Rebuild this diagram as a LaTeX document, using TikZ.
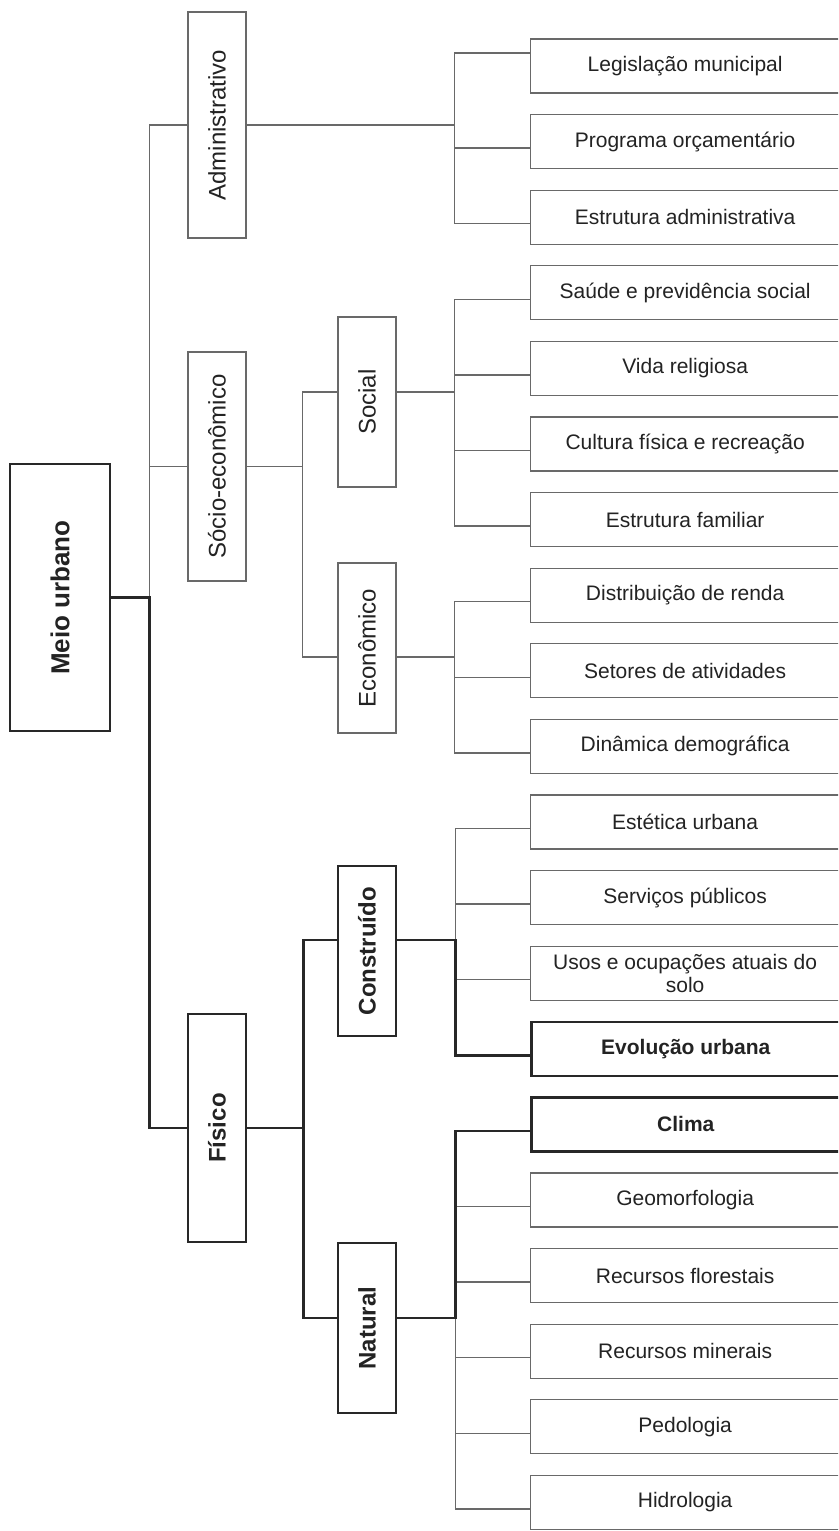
\documentclass[tikz,border=0pt]{standalone}
\usepackage{fontspec}
\setmainfont{Liberation Sans}
\definecolor{thinc}{RGB}{105,105,105}
\definecolor{thickc}{RGB}{40,40,40}
\definecolor{txt}{RGB}{35,35,35}
\begin{document}
\begin{tikzpicture}[x=1pt,y=-1pt,
  box/.style={draw=thinc,line width=1.3pt,inner sep=0pt,text=txt},
  boldbox/.style={draw=thickc,line width=2.6pt,inner sep=0pt,text=txt},
  leaf/.style={minimum width=309pt,minimum height=54pt,anchor=west,
    font=\fontsize{21}{23}\selectfont,align=center},
  boldleaf/.style={leaf,font=\bfseries\fontsize{21}{23}\selectfont},
  branch/.style={minimum width=58pt,font=\fontsize{24}{28}\selectfont},
  boldbranch/.style={minimum width=58pt,font=\bfseries\fontsize{24}{28}\selectfont},
  thinline/.style={draw=thinc,line width=1.3pt},
  thickline/.style={draw=thickc,line width=2.6pt}
]
\clip (0,0) rectangle (838,1531);
\fill[white] (0,0) rectangle (838,1531);

% root and first level
\node[boldbox,minimum width=100pt,minimum height=267pt,
  font=\bfseries\fontsize{26}{30}\selectfont] (meio) at (60,597.5) {\rotatebox{90}{Meio urbano}};
\node[box,branch,minimum height=226pt] (adm) at (217,125) {\rotatebox{90}{Administrativo}};
\node[box,branch,minimum height=229pt] (socio) at (217,466.5) {\rotatebox{90}{Sócio-econômico}};
\node[boldbox,boldbranch,minimum height=228pt] (fisico) at (217,1128) {\rotatebox{90}{Físico}};

% second level
\node[box,branch,minimum height=170pt] (social) at (367,402) {\rotatebox{90}{Social}};
\node[box,branch,minimum height=170pt] (econ) at (367,648) {\rotatebox{90}{Econômico}};
\node[boldbox,boldbranch,minimum height=170pt] (constr) at (367,951) {\rotatebox{90}{Construído}};
\node[boldbox,boldbranch,minimum height=170pt] (natural) at (367,1328) {\rotatebox{90}{Natural}};

% leaves
\node[box,leaf] (leg)   at (530,66)     {Legislação municipal};
\node[box,leaf] (prog)  at (530,141.6)  {Programa orçamentário};
\node[box,leaf] (estr)  at (530,217.2)  {Estrutura administrativa};
\node[box,leaf] (saude) at (530,292.8)  {Saúde e previdência social};
\node[box,leaf] (vida)  at (530,368.4)  {Vida religiosa};
\node[box,leaf] (cult)  at (530,444)    {Cultura física e recreação};
\node[box,leaf] (fam)   at (530,519.6)  {Estrutura familiar};
\node[box,leaf] (dist)  at (530,595.2)  {Distribuição de renda};
\node[box,leaf] (seto)  at (530,670.8)  {Setores de atividades};
\node[box,leaf] (dina)  at (530,746.4)  {Dinâmica demográfica};
\node[box,leaf] (este)  at (530,822)    {Estética urbana};
\node[box,leaf] (serv)  at (530,897.6)  {Serviços públicos};
\node[box,leaf] (usos)  at (530,973.2)  {Usos e ocupações atuais do\\solo};
\node[boldbox,boldleaf] (evol)  at (530,1048.8) {Evolução urbana};
\node[boldbox,boldleaf] (clima) at (530,1124.4) {Clima};
\node[box,leaf] (geo)   at (530,1200)   {Geomorfologia};
\node[box,leaf] (flor)  at (530,1275.6) {Recursos florestais};
\node[box,leaf] (mine)  at (530,1351.2) {Recursos minerais};
\node[box,leaf] (pedo)  at (530,1426.8) {Pedologia};
\node[box,leaf] (hidro) at (530,1502.4) {Hidrologia};

% bus junctions
\coordinate (spine)     at ([xshift=38pt]meio.east);
\coordinate (admBus)    at ([xshift=208pt]adm.east);
\coordinate (socBus)    at ([xshift=56pt]socio.east);
\coordinate (socialBus) at ([xshift=58pt,yshift=10pt]social.east);
\coordinate (econBus)   at ([xshift=58pt,yshift=-9pt]econ.east);
\coordinate (fisBus)    at ([xshift=56pt]fisico.east);
\coordinate (conBus)    at ([xshift=58pt,yshift=11pt]constr.east);
\coordinate (natBus)    at ([xshift=58pt,yshift=10pt]natural.east);

% thin connectors
\draw[thinline] (spine) |- (adm.west);
\draw[thinline] (spine) |- (socio.west);

\draw[thinline] (adm.east) -- (admBus);
\draw[thinline] (admBus) |- ([yshift=13pt]leg.west);
\draw[thinline] (admBus) |- ([yshift=-6.5pt]prog.west);
\draw[thinline] (admBus) |- ([yshift=-6.5pt]estr.west);

\draw[thinline] (socio.east) -- (socBus);
\draw[thinline] (socBus) |- ([yshift=10pt]social.west);
\draw[thinline] (socBus) |- ([yshift=-9pt]econ.west);

\draw[thinline] ([yshift=10pt]social.east) -- (socialBus);
\draw[thinline] (socialBus) |- ([yshift=-6.5pt]saude.west);
\draw[thinline] (socialBus) |- ([yshift=-6.5pt]vida.west);
\draw[thinline] (socialBus) |- ([yshift=-6.5pt]cult.west);
\draw[thinline] (socialBus) |- ([yshift=-6.5pt]fam.west);

\draw[thinline] ([yshift=-9pt]econ.east) -- (econBus);
\draw[thinline] (econBus) |- ([yshift=-6.5pt]dist.west);
\draw[thinline] (econBus) |- ([yshift=-6.5pt]seto.west);
\draw[thinline] (econBus) |- ([yshift=-6.5pt]dina.west);

\draw[thinline] (conBus) |- ([yshift=-6.5pt]este.west);
\draw[thinline] (conBus) |- ([yshift=-6.5pt]serv.west);
\draw[thinline] (conBus) |- ([yshift=-6.5pt]usos.west);

\draw[thinline] (natBus) |- ([yshift=-6.5pt]geo.west);
\draw[thinline] (natBus) |- ([yshift=-6.5pt]flor.west);
\draw[thinline] (natBus) |- ([yshift=-6.5pt]mine.west);
\draw[thinline] (natBus) |- ([yshift=-6.5pt]pedo.west);
\draw[thinline] (natBus) |- ([yshift=-6.5pt]hidro.west);

% thick connectors along the physical branch
\draw[thickline] (meio.east) -- (spine) |- (fisico.west);
\draw[thickline] (fisico.east) -- (fisBus);
\draw[thickline] ([yshift=11pt]constr.west) -| (fisBus) |- ([yshift=10pt]natural.west);
\draw[thickline] ([yshift=11pt]constr.east) -- (conBus) |- ([yshift=-6.5pt]evol.west);
\draw[thickline] ([yshift=10pt]natural.east) -- (natBus) |- ([yshift=-6.5pt]clima.west);
\end{tikzpicture}
\end{document}
